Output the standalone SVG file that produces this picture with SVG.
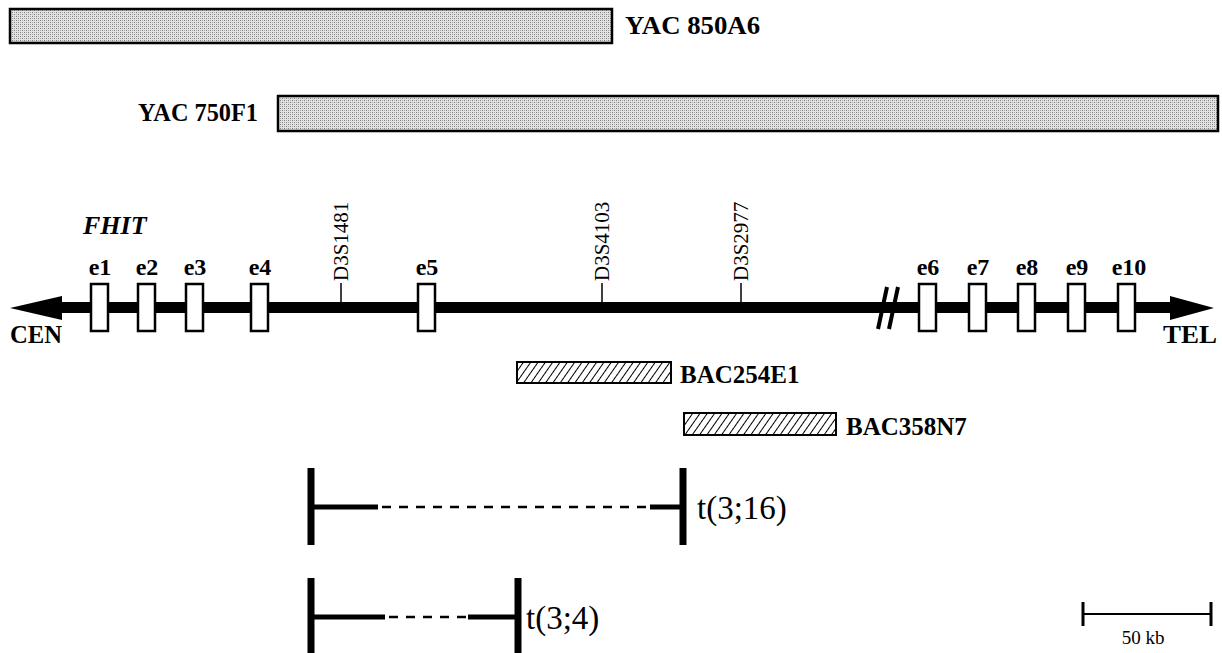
<svg xmlns="http://www.w3.org/2000/svg" width="1222" height="653" viewBox="0 0 1222 653">
<defs>
<pattern id="stip" width="4" height="4" patternUnits="userSpaceOnUse">
<rect width="4" height="4" fill="#e2e2e2"/>
<rect x="0" y="0" width="1" height="1" fill="#7d7d7d"/>
<rect x="2" y="2" width="1" height="1" fill="#7d7d7d"/>
<rect x="2" y="0" width="1" height="1" fill="#ababab"/>
<rect x="0" y="2" width="1" height="1" fill="#ababab"/>
</pattern>
<pattern id="hatch" width="6" height="6" patternUnits="userSpaceOnUse" patternTransform="rotate(35)">
<rect width="6" height="6" fill="#fff"/>
<line x1="0" y1="0" x2="0" y2="6" stroke="#000" stroke-width="2"/>
</pattern>
</defs>
<style>
.yac{fill:url(#stip);stroke:#000;stroke-width:2.5}
.bac{fill:url(#hatch);stroke:#000;stroke-width:2}
.exon{fill:#fff;stroke:#000;stroke-width:2.5}
.bl{font-family:"Liberation Serif",serif;font-weight:bold;fill:#000}
.mk{font-family:"Liberation Serif",serif;fill:#000;font-size:21px}
.tr{font-family:"Liberation Serif",serif;fill:#000;font-size:33px}
.ex{font-family:"Liberation Serif",serif;font-weight:bold;fill:#000;font-size:24px;text-anchor:middle}
.tick{stroke:#000;stroke-width:1.5}
.thick{stroke:#000;stroke-width:7;fill:none}
.seg{stroke:#000;stroke-width:5;fill:none}
.dash{stroke:#000;stroke-width:2.5;stroke-dasharray:9,8;fill:none}
</style>
<rect width="1222" height="653" fill="#fff"/>

<g id="yac850a6">
<rect class="yac" x="10" y="9" width="602" height="34"/>
<text class="bl" x="625" y="34" font-size="26" textLength="135" lengthAdjust="spacingAndGlyphs">YAC 850A6</text>
</g>
<g id="yac750f1">
<rect class="yac" x="278" y="96" width="940" height="35"/>
<text class="bl" x="138" y="121" font-size="26" textLength="120" lengthAdjust="spacingAndGlyphs">YAC 750F1</text>
</g>

<g id="fhit-label">
<text class="bl" x="83" y="234" font-size="26" font-style="italic">FHIT</text>
</g>

<g id="chromosome">
<rect x="58" y="302" width="1116" height="11" fill="#000"/>
<polygon points="10,308 62,296 62,320" fill="#000"/>
<polygon points="1214,308 1170,296 1170,320" fill="#000"/>
<line x1="887" y1="287" x2="878" y2="329" stroke="#000" stroke-width="4"/>
<line x1="898" y1="287" x2="889" y2="329" stroke="#000" stroke-width="4"/>
<text class="bl" x="10" y="343" font-size="25" textLength="52" lengthAdjust="spacingAndGlyphs">CEN</text>
<text class="bl" x="1163" y="343" font-size="25" textLength="54" lengthAdjust="spacingAndGlyphs">TEL</text>
</g>

<g id="exons">
<rect class="exon" x="91" y="284" width="17" height="47"/>
<rect class="exon" x="138" y="284" width="17" height="47"/>
<rect class="exon" x="186" y="284" width="17" height="47"/>
<rect class="exon" x="251" y="284" width="17" height="47"/>
<rect class="exon" x="418" y="284" width="17" height="47"/>
<rect class="exon" x="919" y="284" width="17" height="47"/>
<rect class="exon" x="969" y="284" width="17" height="47"/>
<rect class="exon" x="1018" y="284" width="17" height="47"/>
<rect class="exon" x="1068" y="284" width="17" height="47"/>
<rect class="exon" x="1118" y="284" width="17" height="47"/>
<text class="ex" x="100" y="275">e1</text>
<text class="ex" x="147" y="275">e2</text>
<text class="ex" x="195" y="275">e3</text>
<text class="ex" x="260" y="275">e4</text>
<text class="ex" x="427" y="275">e5</text>
<text class="ex" x="928" y="275">e6</text>
<text class="ex" x="978" y="275">e7</text>
<text class="ex" x="1027" y="275">e8</text>
<text class="ex" x="1077" y="275">e9</text>
<text class="ex" x="1129" y="275">e10</text>
</g>

<g id="markers">
<line class="tick" x1="341" y1="283" x2="341" y2="303"/>
<text class="mk" transform="translate(348,281) rotate(-90)">D3S1481</text>
<line class="tick" x1="602" y1="283" x2="602" y2="303"/>
<text class="mk" transform="translate(609,281) rotate(-90)">D3S4103</text>
<line class="tick" x1="741" y1="283" x2="741" y2="303"/>
<text class="mk" transform="translate(748,281) rotate(-90)">D3S2977</text>
</g>

<g id="bac254e1">
<rect class="bac" x="517" y="362" width="154" height="21"/>
<text class="bl" x="680" y="383" font-size="25">BAC254E1</text>
</g>
<g id="bac358n7">
<rect class="bac" x="684" y="413" width="152" height="22"/>
<text class="bl" x="846" y="435" font-size="25">BAC358N7</text>
</g>

<g id="t316">
<line class="thick" x1="311" y1="468" x2="311" y2="545"/>
<line class="thick" x1="683" y1="468" x2="683" y2="545"/>
<line class="seg" x1="311" y1="507" x2="378" y2="507"/>
<line class="dash" x1="382" y1="507" x2="648" y2="507"/>
<line class="seg" x1="650" y1="507" x2="683" y2="507"/>
<text class="tr" x="697" y="519">t(3;16)</text>
</g>

<g id="t34">
<line class="thick" x1="311" y1="578" x2="311" y2="653"/>
<line class="thick" x1="518" y1="578" x2="518" y2="653"/>
<line class="seg" x1="311" y1="617" x2="385" y2="617"/>
<line class="dash" x1="389" y1="617" x2="468" y2="617"/>
<line class="seg" x1="468" y1="617" x2="518" y2="617"/>
<text class="tr" x="526" y="629">t(3;4)</text>
</g>

<g id="scalebar">
<line x1="1082" y1="614" x2="1212" y2="614" stroke="#000" stroke-width="2"/>
<line x1="1083" y1="602" x2="1083" y2="626" stroke="#000" stroke-width="3"/>
<line x1="1211" y1="602" x2="1211" y2="626" stroke="#000" stroke-width="3"/>
<text x="1143" y="644" font-family="Liberation Serif, serif" font-size="19" text-anchor="middle">50 kb</text>
</g>
</svg>
